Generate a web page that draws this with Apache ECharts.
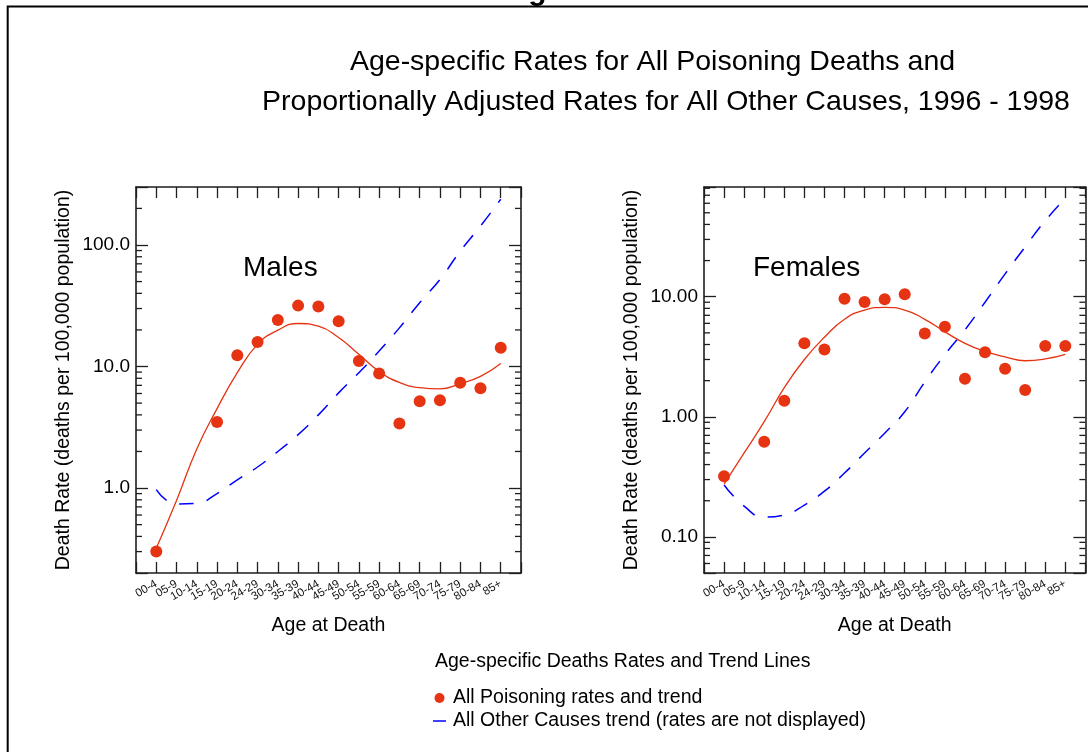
<!DOCTYPE html>
<html><head><meta charset="utf-8">
<script src="https://cdn.jsdelivr.net/npm/echarts@6/dist/echarts.min.js"></script>
<style>html,body{margin:0;padding:0;background:#fff}#c{width:1088px;height:752px}</style>
</head><body><div id="c"></div>
<script>
// ---- data ----
const ageGroups = ['00-4','05-9','10-14','15-19','20-24','24-29','30-34','35-39','40-44','45-49','50-54','55-59','60-64','65-69','70-74','75-79','80-84','85+'];

const malePoisonRates = [0.30, null, null, 3.5, 12.4, 15.9, 24.1, 31.7, 31.2, 23.6, 11.1, 8.75, 3.39, 5.18, 5.28, 7.34, 6.62, 14.3];
const malePoisonTrend = [0.32, 0.79, 2.1, 4.5, 8.9, 15.2, 19.9, 22.6, 21.5, 17.3, 12.6, 9.1, 7.4, 6.7, 6.55, 7.24, 8.3, 10.6];
const maleOtherTrend  = [0.97, 0.74, 0.75, 0.90, 1.17, 1.49, 2.0, 2.75, 4.0, 6.07, 8.9, 13.4, 20.8, 33.5, 52, 89, 143, 238];

const femalePoisonRates = [0.32, null, 0.62, 1.36, 4.09, 3.64, 9.62, 9.03, 9.51, 10.5, 4.95, 5.62, 2.07, 3.44, 2.51, 1.67, 3.88, 3.88];
const femalePoisonTrend = [0.275, 0.50, 0.91, 1.75, 3.0, 4.6, 6.5, 7.75, 8.15, 7.75, 6.48, 5.1, 4.09, 3.5, 3.16, 2.93, 3.03, 3.31];
const femaleOtherTrend  = [0.27, 0.18, 0.146, 0.152, 0.184, 0.24, 0.34, 0.50, 0.73, 1.1, 1.95, 3.3, 5.3, 9.0, 15.5, 26, 43, 66];

const maleYRange = [0.2, 300];
const femaleYRange = [0.05, 82];
const maleMinorTicks = [0.3,0.4,0.5,0.6,0.7,0.8,0.9, 2,3,4,5,6,7,8,9, 20,30,40,50,60,70,80,90, 200];
const femaleMinorTicks = [0.06,0.07,0.08,0.09, 0.2,0.3,0.4,0.5,0.6,0.7,0.8,0.9, 2,3,4,5,6,7,8,9, 20,30,40,50,60,70,80];

const titleLines = ['Age-specific Rates for All Poisoning Deaths and', 'Proportionally Adjusted Rates for All Other Causes, 1996 - 1998'];
const poisonName = 'All Poisoning rates and trend';
const otherName = 'All Other Causes trend (rates are not displayed)';
const legendTitle = 'Age-specific Deaths Rates and Trend Lines';
const yName = 'Death Rate (deaths per 100,000 population)';
const xName = 'Age at Death';

// ---- styles ----
const FONT = '"Liberation Sans", Arial, Helvetica, sans-serif';
const RED = '#e63312';
const BLUE = '#0000ff';
const AX = '#1e1e1e';

const toPairs = arr => arr.map((v, i) => [i, v]).filter(p => p[1] !== null);

function isPow10(v) {
  const l = Math.log10(v);
  return Math.abs(l - Math.round(l)) < 1e-6;
}

function xAxes(g) {
  const common = {
    type: 'value', gridIndex: g, min: -1, max: 18, interval: 1,
    splitLine: {show: false},
    axisLine: {show: true, onZero: false, lineStyle: {color: AX, width: 1.6}},
    axisTick: {show: true, inside: true, length: 11, lineStyle: {color: AX, width: 1.3}}
  };
  return [
    Object.assign({}, common, {
      position: 'bottom',
      name: xName, nameLocation: 'middle', nameGap: 43,
      nameTextStyle: {fontSize: 19.5, fontFamily: FONT, color: '#000'},
      axisLabel: {rotate: 30, margin: 10, fontSize: 11.5, fontFamily: FONT, color: '#111',
        formatter: v => (ageGroups[v] !== undefined ? ageGroups[v] : '')}
    }),
    Object.assign({}, common, {position: 'top', axisLabel: {show: false}})
  ];
}

function yAxes(g, range, digits) {
  const common = {
    type: 'log', logBase: 10, gridIndex: g, min: range[0], max: range[1],
    splitLine: {show: false}, minorTick: {show: false},
    axisLine: {show: true, onZero: false, lineStyle: {color: AX, width: 1.6}},
    axisTick: {show: true, inside: true, length: 12, lineStyle: {color: AX, width: 1.3}}
  };
  return [
    Object.assign({}, common, {
      position: 'left',
      name: yName, nameLocation: 'middle', nameGap: 62,
      nameTextStyle: {fontSize: 19.5, fontFamily: FONT, color: '#000'},
      axisLabel: {margin: 6, fontSize: 19, fontFamily: FONT, color: '#000',
        formatter: v => (isPow10(v) ? Number(v).toFixed(digits) : '')}
    }),
    Object.assign({}, common, {position: 'right', axisLabel: {show: false}})
  ];
}

function minorTickItem(params, api) {
  const cs = params.coordSys;
  const y = api.coord([api.value(0), api.value(1)])[1];
  const st = {stroke: AX, lineWidth: 1.3};
  return {type: 'group', children: [
    {type: 'line', shape: {x1: cs.x, y1: y, x2: cs.x + 6, y2: y}, style: st},
    {type: 'line', shape: {x1: cs.x + cs.width - 6, y1: y, x2: cs.x + cs.width, y2: y}, style: st}
  ]};
}

function seriesFor(g, rates, trend, other, minor) {
  const xi = g * 2, yi = g * 2;
  return [
    {type: 'line', name: otherName, xAxisIndex: xi, yAxisIndex: yi, data: toPairs(other),
      smooth: 0.5, symbol: 'none', lineStyle: {color: BLUE, width: 1.5, type: [15, 13]},
      itemStyle: {color: BLUE}, z: 2},
    {type: 'line', name: poisonName, xAxisIndex: xi, yAxisIndex: yi, data: toPairs(trend),
      smooth: 0.5, symbol: 'none', lineStyle: {color: RED, width: 1.3},
      itemStyle: {color: RED}, z: 3},
    {type: 'scatter', name: poisonName, xAxisIndex: xi, yAxisIndex: yi, data: toPairs(rates),
      symbol: 'circle', symbolSize: 12, itemStyle: {color: RED, opacity: 1}, z: 4},
    {type: 'custom', xAxisIndex: xi, yAxisIndex: yi, silent: true, z: 1,
      data: minor.map(v => [-1, v]), renderItem: minorTickItem}
  ];
}

const chart = echarts.init(document.getElementById('c'), null, {renderer: 'canvas'});
chart.setOption({
  animation: false,
  backgroundColor: '#fff',
  grid: [
    {left: 136, top: 187, width: 385, height: 386},
    {left: 704, top: 187, width: 385, height: 386}
  ],
  xAxis: xAxes(0).concat(xAxes(1)),
  yAxis: yAxes(0, maleYRange, 1).concat(yAxes(1, femaleYRange, 2)),
  legend: {
    orient: 'vertical', left: 428, top: 683, itemWidth: 13, itemHeight: 10, itemGap: 3,
    selectedMode: false,
    data: [{name: poisonName, icon: 'circle'}, {name: otherName, icon: 'path://M0,0H13V1.5H0Z'}],
    textStyle: {fontSize: 19.5, fontFamily: FONT, color: '#000', padding: [0, 0, 0, 2]}
  },
  graphic: [
    {type: 'rect', shape: {x: 7.7, y: 6.5, width: 1300, height: 1000}, style: {fill: 'none', stroke: '#000', lineWidth: 2}, silent: true},
    {type: 'text', x: 585, y: 6.5, style: {text: 'Figure 18.2.', fontSize: 30, fontWeight: 'bold', fontFamily: FONT, fill: '#000', align: 'center', verticalAlign: 'bottom'}},
    {type: 'text', x: 652.5, y: 62, style: {text: titleLines[0], fontSize: 28.5, fontFamily: FONT, fill: '#000', align: 'center', verticalAlign: 'middle'}},
    {type: 'text', x: 666, y: 102, style: {text: titleLines[1], fontSize: 28.5, fontFamily: FONT, fill: '#000', align: 'center', verticalAlign: 'middle'}},
    {type: 'text', x: 243, y: 268, style: {text: 'Males', fontSize: 28, fontFamily: FONT, fill: '#000', align: 'left', verticalAlign: 'middle'}},
    {type: 'text', x: 753, y: 268, style: {text: 'Females', fontSize: 28, fontFamily: FONT, fill: '#000', align: 'left', verticalAlign: 'middle'}},
    {type: 'text', x: 435, y: 662, style: {text: legendTitle, fontSize: 19.5, fontFamily: FONT, fill: '#000', align: 'left', verticalAlign: 'middle'}}
  ],
  series: seriesFor(0, malePoisonRates, malePoisonTrend, maleOtherTrend, maleMinorTicks)
    .concat(seriesFor(1, femalePoisonRates, femalePoisonTrend, femaleOtherTrend, femaleMinorTicks))
});
</script>
</body></html>
